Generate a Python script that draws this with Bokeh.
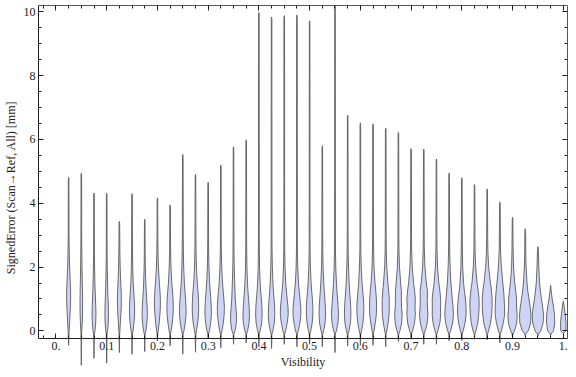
from bokeh.plotting import figure
from bokeh.models import (LinearAxis, FixedTicker, CustomJSTickFormatter, Range1d)
from bokeh.embed import file_html
from bokeh.resources import INLINE

# ---- data ----
visibility = [0.025, 0.05, 0.075, 0.1, 0.125, 0.15, 0.175, 0.2, 0.225, 0.25,
              0.275, 0.3, 0.325, 0.35, 0.375, 0.4, 0.425, 0.45, 0.475, 0.5,
              0.525, 0.55, 0.575, 0.6, 0.625, 0.65, 0.675, 0.7, 0.725, 0.75,
              0.775, 0.8, 0.825, 0.85, 0.875, 0.9, 0.925, 0.95, 0.975, 1.0]

err_max = [4.81, 4.94, 4.32, 4.32, 3.43, 4.30, 3.50, 4.17, 3.95, 5.53,
           4.91, 4.66, 5.20, 5.77, 5.99, 9.98, 9.84, 9.88, 9.90, 9.72,
           5.80, 10.6, 6.76, 6.52, 6.49, 6.35, 6.22, 5.71, 5.70, 5.39,
           4.95, 4.80, 4.59, 4.45, 4.04, 3.56, 3.20, 2.64, 1.43, 0.93]

err_min = [-0.45, -1.08, -0.86, -1.01, -0.68, -0.73, -0.65, -0.32, -0.47, -0.73,
           -0.67, -0.25, -0.53, -0.42, -0.38, -0.50, -0.55, -0.42, -0.50, -0.42,
           -0.50, -0.68, -0.47, -0.45, -0.45, -0.50, -0.33, -0.26, -0.42, -0.42,
           -0.31, -0.30, -0.27, -0.28, -0.38, -0.22, -0.15, -0.17, -0.15, -0.08]

# relative density (violin half-width) at these error levels
levels = [0.0, 0.25, 0.5, 0.75, 1.0, 1.25, 1.5, 2.0, 2.5, 3.0]
density = [
    [0.5, 1.0, 1.4, 1.8, 2.0, 2.0, 1.7, 1.0, 0.6, 0.4],
    [0.5, 0.9, 1.2, 1.3, 1.3, 1.2, 1.0, 0.7, 0.5, 0.4],
    [1.0, 1.7, 2.0, 1.8, 1.5, 1.2, 0.9, 0.6, 0.4, 0.35],
    [0.9, 1.6, 1.8, 1.7, 1.4, 1.1, 0.9, 0.6, 0.4, 0.35],
    [0.5, 1.0, 1.5, 1.9, 2.0, 1.8, 1.4, 0.8, 0.5, 0.4],
    [1.0, 2.0, 2.6, 2.6, 2.2, 1.7, 1.2, 0.7, 0.5, 0.4],
    [1.2, 2.2, 2.7, 2.5, 2.0, 1.5, 1.1, 0.6, 0.4, 0.35],
    [0.8, 1.8, 2.5, 3.0, 3.0, 2.6, 2.0, 1.0, 0.6, 0.4],
    [1.0, 2.2, 3.0, 3.3, 3.0, 2.4, 1.7, 0.9, 0.5, 0.4],
    [1.2, 2.5, 3.3, 3.3, 2.8, 2.2, 1.6, 0.9, 0.6, 0.45],
    [1.0, 2.3, 3.1, 3.3, 3.0, 2.5, 1.8, 1.0, 0.6, 0.45],
    [1.3, 2.6, 3.3, 3.2, 2.7, 2.1, 1.5, 0.8, 0.5, 0.4],
    [1.2, 2.5, 3.4, 3.6, 3.1, 2.4, 1.7, 0.9, 0.5, 0.4],
    [1.6, 2.9, 3.0, 2.4, 1.8, 1.5, 1.2, 0.7, 0.5, 0.4],
    [1.4, 2.9, 3.3, 3.0, 2.4, 1.8, 1.3, 0.7, 0.5, 0.4],
    [1.3, 2.8, 3.3, 3.1, 2.5, 1.8, 1.3, 0.7, 0.5, 0.4],
    [1.3, 2.8, 3.3, 3.1, 2.5, 1.9, 1.4, 0.8, 0.5, 0.4],
    [1.4, 3.0, 4.0, 3.8, 3.0, 2.2, 1.5, 0.8, 0.5, 0.4],
    [1.4, 3.0, 4.0, 3.9, 3.1, 2.3, 1.6, 0.8, 0.5, 0.4],
    [1.2, 2.6, 3.3, 3.3, 2.8, 2.1, 1.5, 0.8, 0.5, 0.4],
    [1.3, 2.8, 3.3, 3.1, 2.6, 2.0, 1.5, 0.8, 0.5, 0.4],
    [1.4, 3.0, 3.6, 3.2, 2.6, 2.0, 1.5, 0.8, 0.5, 0.4],
    [1.3, 2.8, 3.3, 3.1, 2.6, 2.0, 1.5, 0.9, 0.5, 0.4],
    [1.2, 2.6, 3.4, 3.6, 3.1, 2.4, 1.7, 0.9, 0.5, 0.4],
    [1.0, 2.3, 3.3, 3.6, 3.4, 2.8, 2.0, 1.0, 0.6, 0.4],
    [1.0, 2.4, 3.4, 3.6, 3.6, 3.0, 2.2, 1.1, 0.6, 0.45],
    [1.5, 3.3, 3.8, 3.2, 3.0, 3.0, 2.3, 1.1, 0.6, 0.45],
    [1.5, 3.5, 4.3, 4.0, 4.3, 3.6, 2.5, 1.2, 0.6, 0.45],
    [1.5, 3.5, 4.3, 3.7, 3.6, 3.7, 2.6, 1.2, 0.6, 0.45],
    [1.5, 3.5, 4.3, 4.2, 4.3, 3.5, 2.4, 1.1, 0.6, 0.45],
    [1.5, 3.6, 4.4, 4.0, 3.2, 2.5, 1.8, 1.0, 0.6, 0.45],
    [1.4, 3.3, 4.3, 4.3, 3.7, 2.6, 1.8, 0.9, 0.6, 0.45],
    [1.5, 3.3, 4.2, 4.7, 4.6, 3.8, 2.6, 1.2, 0.6, 0.45],
    [1.4, 3.4, 4.5, 5.0, 5.0, 4.4, 3.3, 1.5, 0.7, 0.5],
    [1.5, 3.5, 4.8, 4.7, 4.4, 3.8, 3.0, 1.5, 0.7, 0.5],
    [2.0, 4.2, 4.7, 4.0, 4.0, 3.2, 2.2, 1.0, 0.6, 0.45],
    [3.0, 5.5, 5.8, 5.0, 3.8, 2.6, 1.8, 0.9, 0.5, 0.45],
    [3.0, 5.3, 5.8, 4.8, 3.6, 2.5, 1.7, 0.9, 0.5, 0.4],
    [3.0, 4.2, 4.0, 3.0, 1.6, 0.6, 0.3, 0.3, 0.3, 0.3],
    [2.6, 2.8, 2.0, 1.0, 0.3, 0.3, 0.3, 0.3, 0.3, 0.3],
]

# axis ticks
x_major_ticks = [0.0, 0.1, 0.2, 0.3, 0.4, 0.5, 0.6, 0.7, 0.8, 0.9, 1.0]
y_major_ticks = [0, 2, 4, 6, 8, 10]
x_minor_ticks = [round(-0.025 + 0.025 * i, 3) for i in range(42)]
y_minor_ticks = [0.5 * i for i in range(21)]

# ---- build violin outlines ----
W = 0.00194      # density unit -> visibility units
TAIL = 0.3
xs_all, ys_all = [], []
for x0, lo, hi, dens in zip(visibility, err_min, err_max, density):
    prof = [(lo, 0.0)]
    if lo < -0.1:
        prof.append((-0.1, 0.35))
    prof += [(l, d) for l, d in zip(levels, dens) if lo < l < hi]
    if hi > levels[-1] + 0.1:
        prof.append((hi - 0.05, TAIL))
    prof.append((hi, 0.0))
    ys = [y for y, _ in prof] + [y for y, _ in reversed(prof)]
    xs = [x0 - d * W for _, d in prof] + [x0 + d * W for _, d in reversed(prof)]
    xs_all.append(xs)
    ys_all.append(ys)

X0, X1 = -0.0344, 1.0083
Y_AX, Y1 = -0.23, 10.2

p = figure(width=568, height=369, output_backend="svg", toolbar_location=None,
           x_range=Range1d(X0, X1), y_range=Range1d(-1.211, Y1),
           x_axis_location=None, y_axis_location=None,
           min_border_left=0, min_border_right=1, min_border_top=5, min_border_bottom=0)
p.outline_line_color = None
p.background_fill_color = "white"
p.border_fill_color = "white"
p.grid.visible = False

p.patches(xs_all, ys_all, fill_color="#cdd4f6", fill_alpha=1.0,
          line_color="#5c5c5c", line_width=1.0, line_alpha=0.9)

FONT = "Liberation Serif"
AX_COL = "#1e1e1e"
TXT_COL = "#222222"

def style(ax):
    ax.axis_line_color = AX_COL
    ax.major_tick_line_color = AX_COL
    ax.minor_tick_line_color = AX_COL
    ax.major_tick_in = 5
    ax.major_tick_out = 0
    ax.minor_tick_in = 3
    ax.minor_tick_out = 0
    ax.major_label_text_font = FONT
    ax.major_label_text_font_size = "12px"
    ax.major_label_text_color = TXT_COL
    ax.axis_label_text_font = FONT
    ax.axis_label_text_font_size = "12px"
    ax.axis_label_text_font_style = "normal"
    ax.axis_label_text_color = TXT_COL

xfmt = CustomJSTickFormatter(code="""
if (Math.abs(tick) < 1e-9) return '0.';
if (Math.abs(tick - 1) < 1e-9) return '1.';
return tick.toFixed(1);
""")

left = LinearAxis(ticker=FixedTicker(ticks=y_major_ticks, minor_ticks=y_minor_ticks),
                  bounds=(Y_AX, Y1), axis_label="SignedError (Scan\u2192Ref, All) [mm]")
style(left)
left.major_label_standoff = 3
left.axis_label_standoff = 3
p.add_layout(left, "left")

bottom = LinearAxis(ticker=FixedTicker(ticks=x_major_ticks, minor_ticks=x_minor_ticks),
                    formatter=xfmt, fixed_location=Y_AX, axis_label="Visibility")
style(bottom)
bottom.major_label_standoff = 4
bottom.axis_label_standoff = 1
p.add_layout(bottom, "below")

# frame ticks without labels on top and right (minor + major lengths)
for ticks, length in ((x_minor_ticks, 3), (x_major_ticks, 5)):
    ax = LinearAxis(ticker=FixedTicker(ticks=[], minor_ticks=ticks), fixed_location=Y1)
    style(ax)
    ax.minor_tick_in = length
    p.add_layout(ax, "above")

for ticks, length in ((y_minor_ticks, 3), (y_major_ticks, 5)):
    ax = LinearAxis(ticker=FixedTicker(ticks=[], minor_ticks=ticks), fixed_location=X1,
                    bounds=(Y_AX, Y1))
    style(ax)
    ax.minor_tick_in = length
    p.add_layout(ax, "right")

open("out.html", "w").write(file_html(p, INLINE))
